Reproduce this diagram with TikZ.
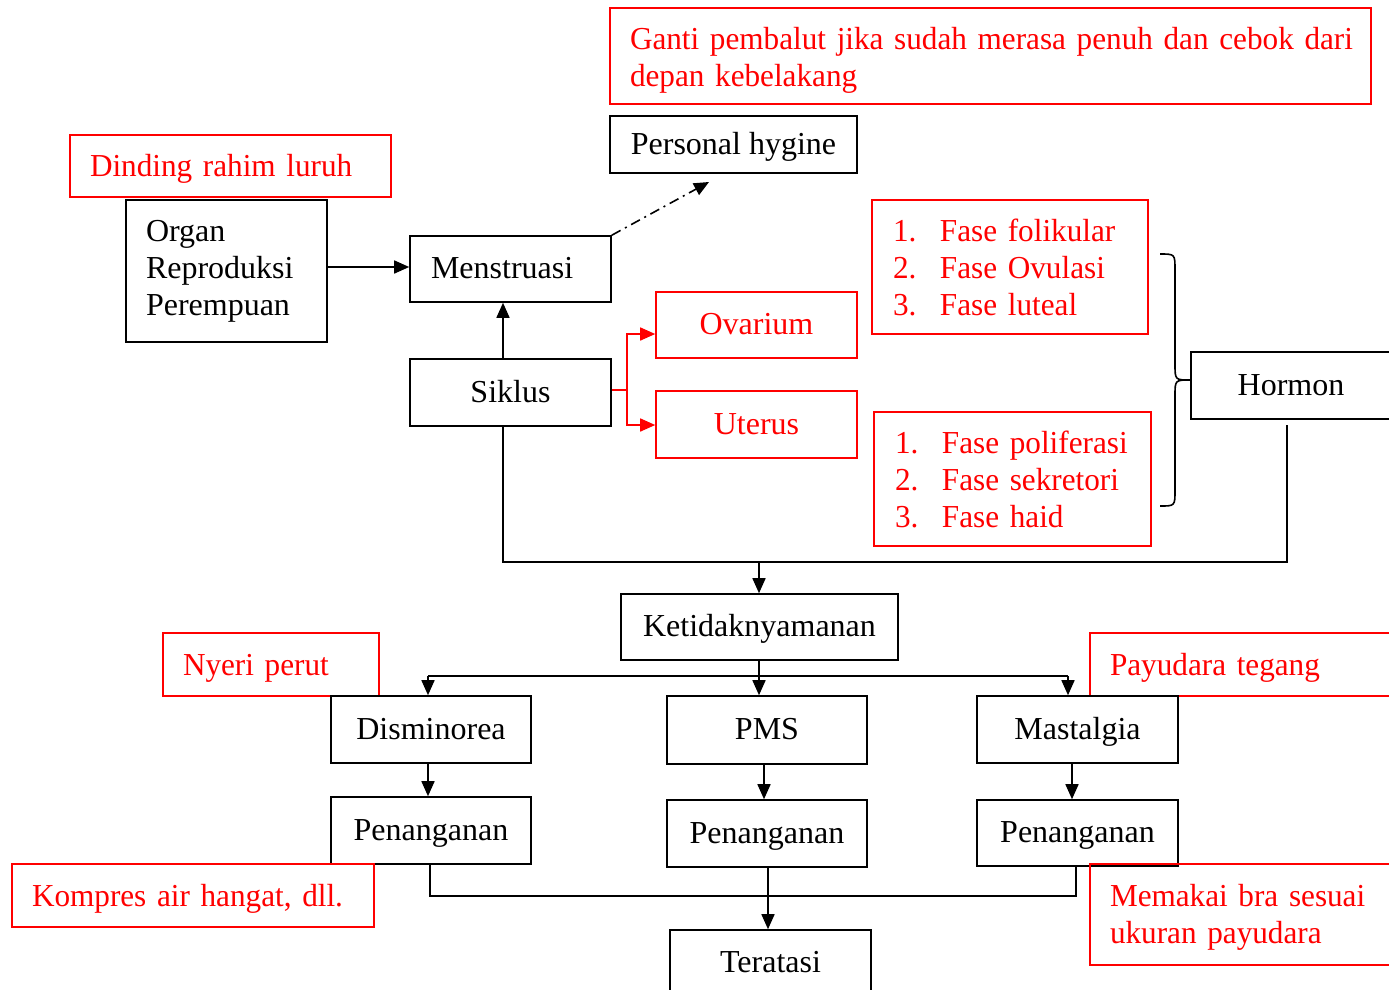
\documentclass[tikz,border=0pt]{standalone}
\usepackage{fontspec}
\setmainfont{Liberation Serif}
\newfontfamily\rfnt[FakeStretch=0.975]{Liberation Serif}
\usetikzlibrary{arrows.meta}
\tikzset{
  f/.style={font=\fontsize{32}{37}\selectfont},
  rf/.style={font=\rfnt\fontsize{32}{37}\selectfont},
  one/.style={text height=21pt, text depth=2pt},
  onel/.style={text height=21pt, text depth=0pt},
  bbox/.style={f, one, draw=black, line width=1.6pt, inner sep=0pt, align=center},
  rbox/.style={f, one, draw=red, text=red, line width=1.6pt, inner sep=0pt, align=center},
  lbox/.style={rf, draw=red, text=red, line width=1.6pt, inner ysep=0pt, inner xsep=20pt, align=left},
  ln/.style={line width=1.6pt},
  arr/.style={line width=1.6pt, -{Triangle[length=15pt,width=13pt]}},
  rln/.style={line width=1.6pt, draw=red},
  rarr/.style={line width=1.6pt, draw=red, -{Triangle[length=15pt,width=13pt]}, red},
}
\begin{document}
\begin{tikzpicture}[x=1pt,y=-1pt]
\useasboundingbox (0,0) rectangle (1389,989);

% top red note
\node[lbox, text width=721pt, minimum height=96pt] (ganti) at (990.5,56)
  {\raisebox{-5pt}[\height][\depth]{\begin{tabular}{@{}l@{}}Ganti pembalut jika sudah merasa penuh dan cebok dari\\depan kebelakang\end{tabular}}};
\node[bbox, minimum width=247pt, minimum height=57pt] (ph) at (733.5,144.5) {Personal hygine};
\node[lbox, onel, text width=281pt, minimum height=62pt] (dind) at (230.5,166) {Dinding rahim luruh};
\node[f, draw, line width=1.6pt, inner ysep=0pt, inner xsep=20pt, align=left, text width=161pt, minimum height=142pt] (organ) at (226.5,271)
  {Organ\\Reproduksi\\Perempuan};
\node[bbox, minimum width=201pt, minimum height=66pt, align=left, text width=159pt, inner xsep=21pt] (menst) at (510.5,269) {Menstruasi};
\node[bbox, minimum width=201pt, minimum height=67pt] (siklus) at (510.5,392.5) {Siklus};
\node[rbox, minimum width=201pt, minimum height=66pt] (ovar) at (756.5,325) {Ovarium};
\node[rbox, minimum width=201pt, minimum height=67pt] (uter) at (756.5,424.5) {Uterus};

\node[rf, draw=red, text=red, line width=1.6pt, inner ysep=0pt, inner xsep=21pt, align=left, text width=234pt, minimum height=134pt] (fl1) at (1010,267)
  {\raisebox{-4pt}[\height][\depth]{\begin{tabular}{@{}p{47pt}@{}l@{}}1. & Fase folikular\\ 2. & Fase Ovulasi\\ 3. & Fase luteal\end{tabular}}};
\node[rf, draw=red, text=red, line width=1.6pt, inner ysep=0pt, inner xsep=21pt, align=left, text width=235pt, minimum height=134pt] (fl2) at (1012.5,479)
  {\raisebox{-4pt}[\height][\depth]{\begin{tabular}{@{}p{47pt}@{}l@{}}1. & Fase poliferasi\\ 2. & Fase sekretori\\ 3. & Fase haid\end{tabular}}};

\node[bbox, minimum width=200pt, minimum height=67pt] (hormon) at (1291,385.5) {Hormon};

\node[bbox, minimum width=277pt, minimum height=66pt] (ketid) at (759.5,627) {Ketidaknyamanan};
\node[lbox, onel, text width=176pt, minimum height=63pt] (nyeri) at (271,664.5) {Nyeri perut};
\node[lbox, onel, text width=280pt, minimum height=63pt] (payu) at (1250,664.5) {Payudara tegang};

\node[bbox, minimum width=200pt, minimum height=67pt] (dism) at (431,729.5) {Disminorea};
\node[bbox, minimum width=200pt, minimum height=68pt] (pms) at (767,730) {PMS};
\node[bbox, minimum width=201pt, minimum height=67pt] (mast) at (1077.5,729.5) {Mastalgia};

\node[bbox, minimum width=200pt, minimum height=67pt] (pen1) at (431,830.5) {Penanganan};
\node[bbox, minimum width=200pt, minimum height=67pt] (pen2) at (767,833.5) {Penanganan};
\node[bbox, minimum width=201pt, minimum height=66pt] (pen3) at (1077.5,833) {Penanganan};

\node[lbox, onel, text width=322pt, minimum height=63pt] (komp) at (193,895.5) {Kompres air hangat, dll.};
\node[lbox, text width=280pt, minimum height=101pt] (bra) at (1250,914.5)
  {\raisebox{-3pt}[\height][\depth]{\begin{tabular}{@{}l@{}}Memakai bra sesuai\\ukuran payudara\end{tabular}}};

\node[bbox, minimum width=201pt, minimum height=66pt] (terat) at (770.5,963) {Teratasi};

% connectors
\draw[arr] (organ.east |- 0,267) -- (menst.west |- 0,267);
\coordinate (phin) at (709,182);
\draw[line width=1.6pt, dash pattern=on 10pt off 5pt on 2pt off 5pt, -{Triangle[length=15pt,width=13pt]}] (menst.north east) -- (phin);
\draw[arr] (siklus.north -| 503,0) -- (menst.south -| 503,0);

\coordinate (rj) at (627,390);
\draw[rln] (siklus.east |- rj) -- (rj);
\draw[rarr] (rj) |- (ovar.west |- 0,334);
\draw[rarr] (rj) |- (uter.west |- 0,425);

% brace
\draw[line width=1.6pt] (1160,254) .. controls (1175,254) .. (1175,270) -- (1175,364)
  .. controls (1175,380) .. (hormon.west |- 0,380) .. controls (1175,380) .. (1175,396)
  -- (1175,490) .. controls (1175,506) .. (1160,506);

\coordinate (hb) at (1287,425);
\coordinate (jn) at (759,562);
\draw[ln] (siklus.south -| 503,0) |- (hb |- jn) -- (hb);
\draw[arr] (jn) -- (ketid.north -| jn);

\coordinate (kj) at (759,676);
\coordinate (kl) at (428,676);
\coordinate (kr) at (1068,676);
\draw[ln] (ketid.south -| kj) -- (kj);
\draw[ln] (kl) -- (kr);
\draw[arr] (kl) -- (dism.north -| kl);
\draw[arr] (kj) -- (pms.north -| kj);
\draw[arr] (kr) -- (mast.north -| kr);

\draw[arr] (dism.south -| 428,0) -- (pen1.north -| 428,0);
\draw[arr] (pms.south -| 764,0) -- (pen2.north -| 764,0);
\draw[arr] (mast.south -| 1072,0) -- (pen3.north -| 1072,0);

\draw[ln] (pen1.south -| 430,0) |- (1076,896) -- (pen3.south -| 1076,0);
\draw[arr] (pen2.south -| 768,0) -- (terat.north -| 768,0);
\end{tikzpicture}
\end{document}
